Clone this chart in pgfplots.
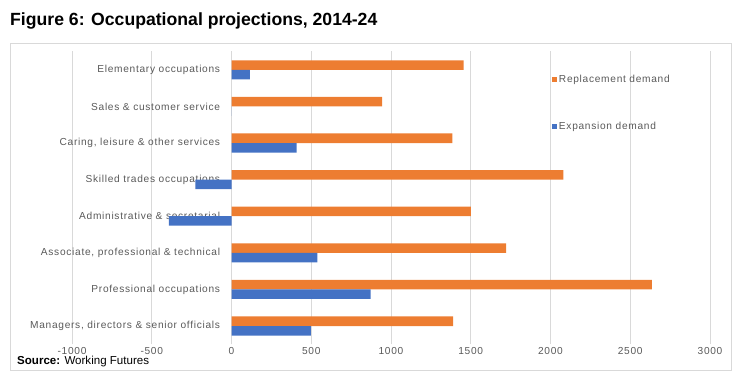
\documentclass[border=0pt]{standalone}
\usepackage{pgfplots}
\pgfplotsset{compat=1.18}
\usepackage{fontspec}
\setmainfont{Liberation Sans}
\newfontfamily\labfont[LetterSpace=7]{Liberation Sans}
\definecolor{repl}{HTML}{ED7D31}
\definecolor{expa}{HTML}{4472C4}
\definecolor{txtgray}{HTML}{595959}
\definecolor{gridgray}{HTML}{D9D9D9}
\begin{document}
\begin{tikzpicture}[x=1bp,y=1bp]
\path[use as bounding box] (-72,-34.7) rectangle (677,344.3);
\draw[gridgray, line width=0.8bp] (-61.5,-26.2) rectangle (659,300.8);
\begin{axis}[at={(0,0)}, anchor=south west, scale only axis,
  width=638bp, height=292.8bp,
  xmin=-1000, xmax=3000, ymin=-0.5, ymax=7.5,
  xbar, bar width=0.26,
  axis line style={draw=none}, tick style={draw=none},
  xtick={-1000,-500,...,3000}, xmajorgrids,
  grid style={gridgray, line width=0.6bp},
  ytick={0,...,7},
  yticklabels={{Managers, directors \& senior officials},{Professional occupations},{Associate, professional \& technical},{Administrative \& secretarial},{Skilled trades occupations},{Caring, leisure \& other services},{Sales \& customer service},{Elementary occupations}},
  ticklabel style={font=\labfont\fontsize{10.2}{12}\selectfont, text=txtgray},
  /pgf/number format/assume math mode=true,
  /pgf/number format/1000 sep={},
  yticklabel style={anchor=east, inner xsep=0pt, xshift=152.5bp},
  legend cell align=left,
  legend image code/.code={\fill[#1] (0bp,-2.5bp) rectangle (5bp,2.5bp);},
  legend style={at={(0.752,0.927)}, anchor=north west, draw=none, fill=none,
    inner sep=0pt, row sep=34bp, font=\labfont\fontsize{10.2}{12}\selectfont, text=txtgray,
    /tikz/every even column/.append style={column sep=3bp}},
]
\addplot[fill=repl, draw=none, bar shift=0.13] coordinates {(1390,0) (2635,1) (1722,2) (1500,3) (2080,4) (1384,5) (945,6) (1455,7)};
\addlegendentry{Replacement demand}
\addplot[fill=expa, draw=none, bar shift=-0.13] coordinates {(498,0) (873,1) (538,2) (-392,3) (-227,4) (408,5) (0,6) (115,7)};
\addlegendentry{Expansion demand}
\end{axis}
\node[anchor=base west, inner sep=0pt, font=\bfseries\fontsize{17.7}{20}\selectfont] at (-62,319.3) {Figure 6: Occupational projections, 2014-24};
\node[anchor=base west, inner sep=0pt, font=\fontsize{11.6}{13}\selectfont] at (-55,-19.7) {\textbf{Source:} Working Futures};
\end{tikzpicture}
\end{document}
